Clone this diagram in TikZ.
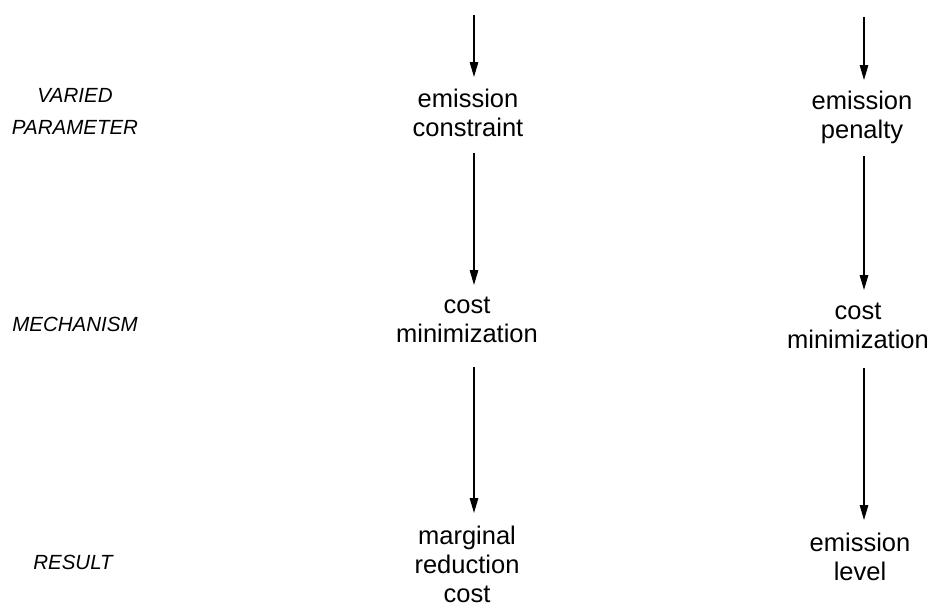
\documentclass[tikz,border=0pt]{standalone}
\usepackage{fontspec}
\setmainfont{Liberation Sans}
\usetikzlibrary{arrows.meta}
\begin{document}
\begin{tikzpicture}[x=1pt,y=-1pt,
  item/.style={anchor=north, inner sep=0pt, align=center, font=\fontsize{25.5}{29}\selectfont},
  rowlabel/.style={anchor=north, inner sep=0pt, align=center, font=\fontsize{20.5}{32}\selectfont\itshape},
  arr/.style={line width=1.3pt, -{Triangle[length=15pt,width=8.5pt]}}]
\useasboundingbox (0,0) rectangle (932,608);
% row labels
\node[rowlabel] (varied) at (75,88) {VARIED\\PARAMETER};
\node[rowlabel] (mech) at (75,317) {MECHANISM};
\node[rowlabel] (res) at (73,555) {RESULT};
% left column
\coordinate (t1) at (474,15);
\node[item] (L1) at (468,89) {emission\\constraint};
\node[item] (L2) at (467,297) {cost\\minimization};
\node[item] (L3) at (467,526) {marginal\\reduction\\cost};
\draw[arr, shorten >=12pt] (t1) -- (L1.north -| t1);
\draw[arr, shorten <=16pt, shorten >=12pt] (L1.south -| t1) -- (L2.north -| t1);
\draw[arr, shorten <=24pt, shorten >=13pt] (L2.south -| t1) -- (L3.north -| t1);
% right column
\coordinate (t2) at (864,17);
\node[item] (R1) at (862,91) {emission\\penalty};
\node[item] (R2) at (858,303) {cost\\minimization};
\node[item] (R3) at (860,533) {emission\\level};
\draw[arr, shorten >=11pt] (t2) -- (R1.north -| t2);
\draw[arr, shorten <=12pt, shorten >=13pt] (R1.south -| t2) -- (R2.north -| t2);
\draw[arr, shorten <=19pt, shorten >=13pt] (R2.south -| t2) -- (R3.north -| t2);
\end{tikzpicture}
\end{document}
